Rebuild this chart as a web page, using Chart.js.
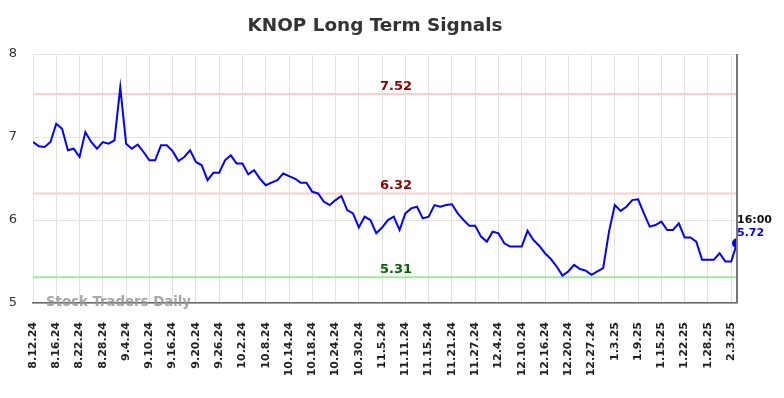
<!DOCTYPE html>
<html><head><meta charset="utf-8">
<script src="https://cdn.jsdelivr.net/npm/chart.js@4/dist/chart.umd.min.js"></script>
<style>html,body{margin:0;padding:0;background:#fff}</style>
</head><body>
<canvas id="c" width="784" height="398"></canvas>
<script>
const tickLabels = ['8.12.24','8.16.24','8.22.24','8.28.24','9.4.24','9.10.24','9.16.24','9.20.24','9.26.24','10.2.24','10.8.24','10.14.24','10.18.24','10.24.24','10.30.24','11.5.24','11.11.24','11.15.24','11.21.24','11.27.24','12.4.24','12.10.24','12.16.24','12.20.24','12.27.24','1.3.25','1.9.25','1.15.25','1.22.25','1.28.25','2.3.25'];
const pointsPerTick = 4;
const values = [
 6.94,6.89,6.88,6.94,7.16,7.10,6.84,6.86,6.76,7.06,
 6.94,6.86,6.94,6.92,6.96,7.60,6.92,6.86,6.91,6.82,
 6.72,6.72,6.90,6.90,6.83,6.71,6.76,6.84,6.70,6.66,
 6.48,6.57,6.57,6.72,6.78,6.68,6.68,6.55,6.60,6.50,
 6.42,6.45,6.48,6.56,6.53,6.50,6.45,6.45,6.34,6.32,
 6.22,6.18,6.24,6.29,6.12,6.08,5.91,6.04,6.00,5.84,
 5.91,6.00,6.04,5.88,6.08,6.14,6.16,6.02,6.04,6.18,
 6.16,6.18,6.19,6.08,6.00,5.93,5.93,5.80,5.74,5.86,
 5.84,5.72,5.68,5.68,5.68,5.87,5.76,5.69,5.60,5.53,
 5.44,5.33,5.38,5.46,5.41,5.39,5.34,5.38,5.42,5.86,
 6.18,6.11,6.16,6.24,6.25,6.08,5.92,5.94,5.98,5.88,
 5.88,5.96,5.79,5.79,5.74,5.52,5.52,5.52,5.60,5.50,
 5.50,5.72
];
const signalLevels = [7.52, 6.32, 5.31];
const signalLineColors = ['#ffcccc', '#ffcccc', '#a3e6a3'];
const signalTextColors = ['#8b0000', '#8b0000', '#006400'];
const yTicks = [5, 6, 7, 8];
const lastTimeLabel = '16:00';

const FONT = "'DejaVu Sans', sans-serif";

const overlay = {
  id: 'overlay',
  beforeDatasetsDraw(chart) {
    const {ctx, chartArea: a, scales: {x, y}} = chart;
    ctx.save();
    signalLevels.forEach((lv, i) => {
      const py = y.getPixelForValue(lv);
      ctx.strokeStyle = signalLineColors[i];
      ctx.lineWidth = 2;
      ctx.beginPath(); ctx.moveTo(a.left, py); ctx.lineTo(a.right, py); ctx.stroke();
    });
    ctx.restore();
  },
  afterDatasetsDraw(chart) {
    const {ctx, chartArea: a, scales: {x, y}} = chart;
    ctx.save();
    ctx.strokeStyle = '#777';
    ctx.lineWidth = 2;
    ctx.beginPath(); ctx.moveTo(a.right, a.top); ctx.lineTo(a.right, a.bottom); ctx.stroke();
    ctx.font = 'bold 13px ' + FONT;
    ctx.textAlign = 'center';
    ctx.textBaseline = 'bottom';
    const cx = x.getPixelForValue(62.4);
    signalLevels.forEach((lv, i) => {
      const py = y.getPixelForValue(lv);
      ctx.fillStyle = signalTextColors[i];
      ctx.fillText(lv.toFixed(2), cx, py - 1);
    });
    ctx.font = 'bold 13.3px ' + FONT;
    ctx.textAlign = 'left';
    ctx.textBaseline = 'middle';
    ctx.fillStyle = 'rgba(150,150,150,0.85)';
    ctx.fillText('Stock Traders Daily', a.left + 13, a.bottom);
    const li = values.length - 1;
    const lx = x.getPixelForValue(li);
    const ly = y.getPixelForValue(values[li]);
    ctx.font = 'bold 11px ' + FONT;
    ctx.textAlign = 'left';
    ctx.fillStyle = '#111';
    ctx.fillText(lastTimeLabel, lx, ly - 23);
    ctx.fillStyle = '#0000ff';
    ctx.fillText(values[li].toFixed(2), lx, ly - 10);
    ctx.restore();
  }
};

new Chart(document.getElementById('c'), {
  type: 'line',
  data: {
    datasets: [{
      data: values.map((v, i) => ({x: i, y: v})),
      borderColor: '#0000ff',
      backgroundColor: '#0000ff',
      borderWidth: 2,
      tension: 0,
      pointRadius: ctx => ctx.dataIndex === values.length - 1 ? 4 : 0,
      pointHoverRadius: 0
    }]
  },
  options: {
    responsive: false,
    animation: false,
    events: [],
    layout: {padding: {left: 0, right: 34, top: 0, bottom: 0}},
    plugins: {
      legend: {display: false},
      tooltip: {enabled: false},
      title: {
        display: true, text: 'KNOP Long Term Signals', color: '#333',
        font: {family: FONT, size: 18.4, weight: 'bold'},
        padding: {top: 15, bottom: 17}
      }
    },
    scales: {
      x: {
        type: 'linear', min: 0, max: values.length - 1,
        afterBuildTicks: s => { s.ticks = tickLabels.map((_, k) => ({value: k * pointsPerTick})); },
        afterFit: s => { s.height = 95; },
        ticks: {
          autoSkip: false, maxRotation: 90, minRotation: 90, padding: 19,
          color: '#222', font: {family: FONT, size: 11, weight: 'bold'},
          callback: v => tickLabels[Math.round(v / pointsPerTick)]
        },
        grid: {color: '#e3e3e3', lineWidth: 1, drawTicks: false},
        border: {color: '#666', width: 1.5}
      },
      y: {
        min: 5, max: 8,
        afterBuildTicks: s => { s.ticks = yTicks.map(v => ({value: v})); },
        afterFit: s => { s.width = 33; },
        ticks: {padding: 16, color: '#333', font: {family: FONT, size: 13}},
        grid: {color: '#e3e3e3', lineWidth: 1, drawTicks: false},
        border: {display: false}
      },
      yRight: {
        position: 'right', min: 5, max: 8,
        afterFit: s => { s.width = 13; },
        ticks: {display: false},
        grid: {display: false, drawTicks: false},
        border: {display: false}
      }
    }
  },
  plugins: [overlay]
});
</script>
</body></html>
